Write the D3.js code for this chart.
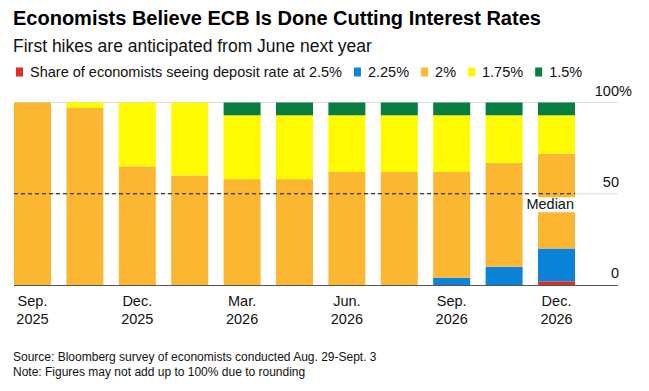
<!DOCTYPE html>
<html>
<head>
<meta charset="utf-8">
<script src="https://cdn.jsdelivr.net/npm/d3@7"></script>
<style>
  body { margin: 0; background: #fff; }
  svg { display: block; font-family: "Liberation Sans", Arial, sans-serif; }
</style>
</head>
<body>
<div id="chart"></div>
<script>
// ECB meeting dates covered by the survey
const meetings = ['Sep 2025', 'Oct 2025', 'Dec 2025', 'Feb 2026', 'Mar 2026', 'Apr 2026',
                  'Jun 2026', 'Jul 2026', 'Sep 2026', 'Oct 2026', 'Dec 2026'];
// share of economists (%) by deposit rate expected
const rate250 = [0, 0, 0, 0, 0, 0, 0, 0, 0, 0, 2];
const rate225 = [0, 0, 0, 0, 0, 0, 0, 0, 4, 10, 18];
const rate200 = [100, 97, 65, 60, 58, 58, 62, 62, 58, 57, 52];
const rate175 = [0, 3, 35, 40, 35, 35, 31, 31, 31, 26, 21];
const rate150 = [0, 0, 0, 0, 7, 7, 7, 7, 7, 7, 7];

const seriesKeys = ['r250', 'r225', 'r200', 'r175', 'r150'];
const seriesLabels = ['Share of economists seeing deposit rate at 2.5%', '2.25%', '2%', '1.75%', '1.5%'];
const tickMeetings = ['Sep 2025', 'Dec 2025', 'Mar 2026', 'Jun 2026', 'Sep 2026', 'Dec 2026'];
const yTicks = [0, 50, 100];
const median = 50;

const colors = {r250: '#de2d26', r225: '#0b83d9', r200: '#fbb732', r175: '#fffa00', r150: '#0a7e41'};

const width = 649, height = 391;
const labelSize = '14.5px';

const rows = meetings.map((m, i) => ({
  meeting: m, r250: rate250[i], r225: rate225[i], r200: rate200[i], r175: rate175[i], r150: rate150[i]
}));

const svg = d3.select('#chart').append('svg')
  .attr('width', width)
  .attr('height', height);

// titles
svg.append('text')
  .attr('x', 13).attr('y', 25)
  .style('font-size', '20px').style('font-weight', 'bold')
  .attr('fill', '#000')
  .text('Economists Believe ECB Is Done Cutting Interest Rates');
svg.append('text')
  .attr('x', 13).attr('y', 52)
  .style('font-size', '17.5px')
  .attr('fill', '#111')
  .text('First hikes are anticipated from June next year');

// legend
const legend = svg.append('g').attr('transform', 'translate(16,72)');
let lx = 0;
seriesKeys.forEach((k, i) => {
  const item = legend.append('g').attr('transform', `translate(${lx},0)`);
  item.append('rect').attr('x', 0).attr('y', -4.5).attr('width', 7).attr('height', 9).attr('fill', colors[k]);
  const t = item.append('text').attr('x', 14).attr('y', 5)
    .style('font-size', labelSize).attr('fill', '#111').text(seriesLabels[i]);
  lx += 14 + t.node().getComputedTextLength() + 12;
});

const x = d3.scaleBand()
  .domain(meetings)
  .range([14, 575])
  .paddingInner(0.294)
  .paddingOuter(0);

const y = d3.scaleLinear()
  .domain([0, 100])
  .range([285, 102.5]);

// gridlines
svg.append('g')
  .selectAll('line')
  .data(yTicks.filter(d => d !== 0))
  .join('line')
  .attr('x1', 14).attr('x2', 618)
  .attr('y1', d => y(d)).attr('y2', d => y(d))
  .attr('stroke', '#dcdcdc').attr('stroke-width', 1);

// y tick labels (number right-aligned, % hanging off)
const yLab = svg.append('g');
yTicks.forEach(t => {
  yLab.append('text')
    .attr('x', 619).attr('y', y(t) - 7)
    .attr('text-anchor', 'end')
    .style('font-size', labelSize).attr('fill', '#111')
    .text(t);
  if (t === 100) {
    yLab.append('text')
      .attr('x', 619).attr('y', y(t) - 7)
      .style('font-size', labelSize).attr('fill', '#111')
      .text('%');
  }
});

// stacked bars
const stack = d3.stack().keys(seriesKeys);
const layers = stack(rows);

svg.append('g')
  .selectAll('g')
  .data(layers)
  .join('g')
  .attr('fill', d => colors[d.key])
  .selectAll('rect')
  .data(d => d)
  .join('rect')
  .attr('x', d => x(d.data.meeting))
  .attr('width', x.bandwidth())
  .attr('y', d => y(d[1]))
  .attr('height', d => y(d[0]) - y(d[1]));

// x axis
const xAxis = svg.append('g')
  .attr('transform', 'translate(0,285)')
  .call(d3.axisBottom(x).tickValues(tickMeetings).tickSize(0).tickFormat(''));
xAxis.select('.domain').attr('stroke', '#555').attr('stroke-width', 1.2)
  .attr('d', 'M14,0.5H618');
xAxis.selectAll('.tick text').remove();
xAxis.selectAll('.tick').each(function (d) {
  const parts = d.split(' ');
  const t = d3.select(this).append('text')
    .attr('text-anchor', 'middle')
    .attr('fill', '#111')
    .style('font-size', labelSize)
    .attr('font-family', '"Liberation Sans", Arial, sans-serif');
  t.append('tspan').attr('x', 0).attr('y', 21).text(parts[0] + '.');
  t.append('tspan').attr('x', 0).attr('y', 38.5).text(parts[1]);
});

// median line
svg.append('line')
  .attr('x1', 14).attr('x2', x(meetings[meetings.length - 1]) + x.bandwidth())
  .attr('y1', y(median)).attr('y2', y(median))
  .attr('stroke', '#111').attr('stroke-width', 1.2)
  .attr('stroke-dasharray', '4,3');

const medBox = svg.append('rect').attr('fill', '#fff');
const medText = svg.append('text')
  .attr('x', x(meetings[meetings.length - 1]) + x.bandwidth() - 1)
  .attr('y', y(median) + 15.5)
  .attr('text-anchor', 'end')
  .style('font-size', labelSize).attr('fill', '#111')
  .text('Median');
const bb = medText.node().getBBox();
medBox.attr('x', bb.x - 1).attr('y', bb.y + 1)
  .attr('width', bb.width + 2).attr('height', bb.height - 1);

// footnotes
svg.append('text')
  .attr('x', 13).attr('y', 361)
  .style('font-size', '12px').attr('fill', '#111')
  .text('Source: Bloomberg survey of economists conducted Aug. 29-Sept. 3');
svg.append('text')
  .attr('x', 13).attr('y', 376)
  .style('font-size', '12px').attr('fill', '#111')
  .text('Note: Figures may not add up to 100% due to rounding');
</script>
</body>
</html>
